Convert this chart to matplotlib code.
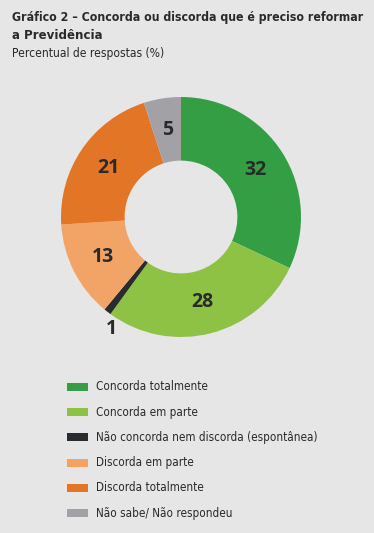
import numpy as np
import matplotlib.pyplot as plt
from matplotlib.patches import Rectangle

categories = ["Concorda totalmente", "Concorda em parte",
              "Não concorda nem discorda (espontânea)", "Discorda em parte",
              "Discorda totalmente", "Não sabe/ Não respondeu"]
values = [32, 28, 1, 13, 21, 5]
colors = ["#349E45", "#8DC244", "#2A2B2E", "#F2A466", "#E37626", "#A2A2A6"]

bg = "#E6E6E6"
txt = "#2A2A2A"
plt.rcParams['font.family'] = ['DejaVu Sans']

fig = plt.figure(figsize=(3.74, 5.33), dpi=100, facecolor=bg)
renderer = fig.canvas.get_renderer()


def fit_text(x, y, s, width_px, size, **kw):
    # shrink text so it spans about width_px (the reference uses a condensed face)
    t = fig.text(x / 374, 1 - y / 533, s, fontsize=size, color=txt, fontstretch='condensed', **kw)
    w = t.get_window_extent(renderer).width
    if w > width_px:
        t.set_fontsize(size * width_px / w)
    return t


fit_text(12, 21, "Gráfico 2 – Concorda ou discorda que é preciso reformar", 350, 11, fontweight='bold')
fit_text(12, 39, "a Previdência", 90, 11, fontweight='bold')
fit_text(12, 57, "Percentual de respostas (%)", 152, 11)

# donut
ax = fig.add_axes([(181 - 120) / 374, (533 - 217 - 120) / 533, 240 / 374, 240 / 533])
ax.set_facecolor(bg)
wedges, _ = ax.pie(values, colors=colors, startangle=90, counterclock=False,
                   radius=1, wedgeprops=dict(width=0.53, linewidth=0))
ax.set_xlim(-1, 1)
ax.set_ylim(-1, 1)
ax.set_aspect('equal')
ax.axis('off')

start = 90
for v in values:
    mid = start - v * 3.6 / 2
    if v > 2:
        r, ang = 0.73, np.deg2rad(mid)
    else:
        r, ang = 1.1, np.deg2rad(mid + 6)  # small slice: label outside
    ax.text(r * np.cos(ang), r * np.sin(ang), str(v), ha='center', va='center',
            fontsize=14, fontweight='bold', color=txt, family=['Open Sans', 'DejaVu Sans'])
    start -= v * 3.6

# legend, one font size for all rows, set by the longest label
leg = []
for i, (lab, c) in enumerate(zip(categories, colors)):
    y = 387 + i * 25.2
    fig.patches.append(Rectangle((67 / 374, 1 - (y + 4) / 533), 21 / 374, 8 / 533,
                                 transform=fig.transFigure, color=c, lw=0))
    leg.append(fit_text(96, y, lab, 999, 10.5, va='center'))
scale = 221 / leg[2].get_window_extent(renderer).width
for t in leg:
    t.set_fontsize(t.get_fontsize() * scale)

fig.savefig("out.png", dpi=100, facecolor=bg)
